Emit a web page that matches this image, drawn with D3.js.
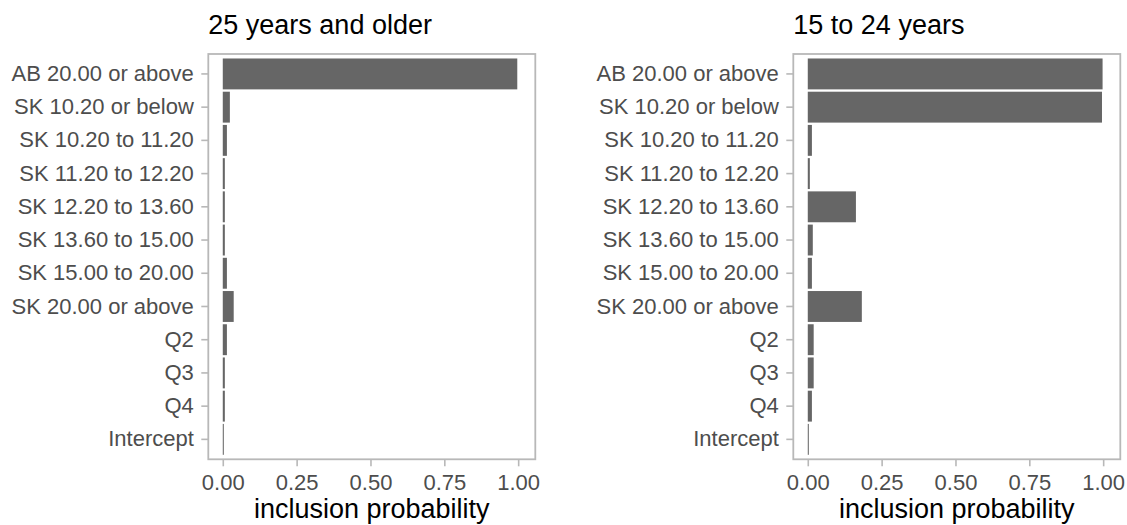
<!DOCTYPE html>
<html>
<head>
<meta charset="utf-8">
<script src="https://cdn.jsdelivr.net/npm/d3@7"></script>
<style>
  html, body { margin: 0; padding: 0; background: #ffffff; }
  svg { display: block; font-family: "Liberation Sans", Arial, Helvetica, sans-serif; }
</style>
</head>
<body>
<svg id="chart" width="1127" height="525"></svg>
<script>
// Model terms, listed top to bottom
const terms = [
  "AB 20.00 or above",
  "SK 10.20 or below",
  "SK 10.20 to 11.20",
  "SK 11.20 to 12.20",
  "SK 12.20 to 13.60",
  "SK 13.60 to 15.00",
  "SK 15.00 to 20.00",
  "SK 20.00 or above",
  "Q2",
  "Q3",
  "Q4",
  "Intercept"
];

// Posterior inclusion probabilities per age group
const older = [0.997, 0.024, 0.014, 0.007, 0.007, 0.007, 0.014, 0.037, 0.014, 0.007, 0.007, 0.0035];
const younger = [0.998, 0.996, 0.014, 0.007, 0.163, 0.017, 0.014, 0.183, 0.020, 0.020, 0.014, 0.0035];

const panelTitles = ["25 years and older", "15 to 24 years"];
const xTicks = [0, 0.25, 0.5, 0.75, 1];
const xLabel = "inclusion probability";

const svg = d3.select("#chart");
svg.append("rect").attr("width", 1127).attr("height", 525).attr("fill", "#ffffff");

const panelTop = 54, panelBottom = 459.3, panelW = 327;
const panels = [
  { left: 208.3, title: panelTitles[0], values: older },
  { left: 793.3, title: panelTitles[1], values: younger }
];

const gridColor = "#b8b8b8";

panels.forEach(p => {
  const g = svg.append("g");
  const x = d3.scaleLinear().domain([-0.049, 1.058]).range([p.left, p.left + panelW]);
  const y = d3.scaleBand().domain(terms).range([panelTop, panelBottom])
    .paddingInner(0.07).paddingOuter(0.135);

  // bars
  g.append("g").selectAll("rect")
    .data(terms.map((t, i) => ({ term: t, value: p.values[i] })))
    .join("rect")
    .attr("x", x(0))
    .attr("y", d => y(d.term))
    .attr("width", d => x(d.value) - x(0))
    .attr("height", y.bandwidth())
    .attr("fill", "#666666");

  // panel border
  g.append("rect")
    .attr("x", p.left).attr("y", panelTop)
    .attr("width", panelW).attr("height", panelBottom - panelTop)
    .attr("fill", "none").attr("stroke", gridColor).attr("stroke-width", 1.8);

  // y axis
  const ya = g.append("g").attr("transform", `translate(${p.left},0)`)
    .call(d3.axisLeft(y).tickSize(7).tickPadding(7.5));
  ya.select(".domain").remove();
  ya.selectAll(".tick line").attr("stroke", gridColor).attr("stroke-width", 1.6);
  ya.selectAll(".tick text").attr("fill", "#4d4d4d").style("font-size", "22px");

  // x axis
  const xa = g.append("g").attr("transform", `translate(0,${panelBottom})`)
    .call(d3.axisBottom(x).tickValues(xTicks).tickFormat(d3.format(".2f")).tickSize(7).tickPadding(8));
  xa.select(".domain").remove();
  xa.selectAll(".tick line").attr("stroke", gridColor).attr("stroke-width", 1.6);
  xa.selectAll(".tick text").attr("fill", "#4d4d4d").style("font-size", "22px");

  // panel title
  g.append("text")
    .attr("x", p.left).attr("y", 34)
    .attr("fill", "#000000").style("font-size", "27px")
    .text(p.title);

  // x axis title
  g.append("text")
    .attr("x", p.left + panelW / 2).attr("y", 518)
    .attr("text-anchor", "middle")
    .attr("fill", "#000000").style("font-size", "27px")
    .text(xLabel);
});
</script>
</body>
</html>
